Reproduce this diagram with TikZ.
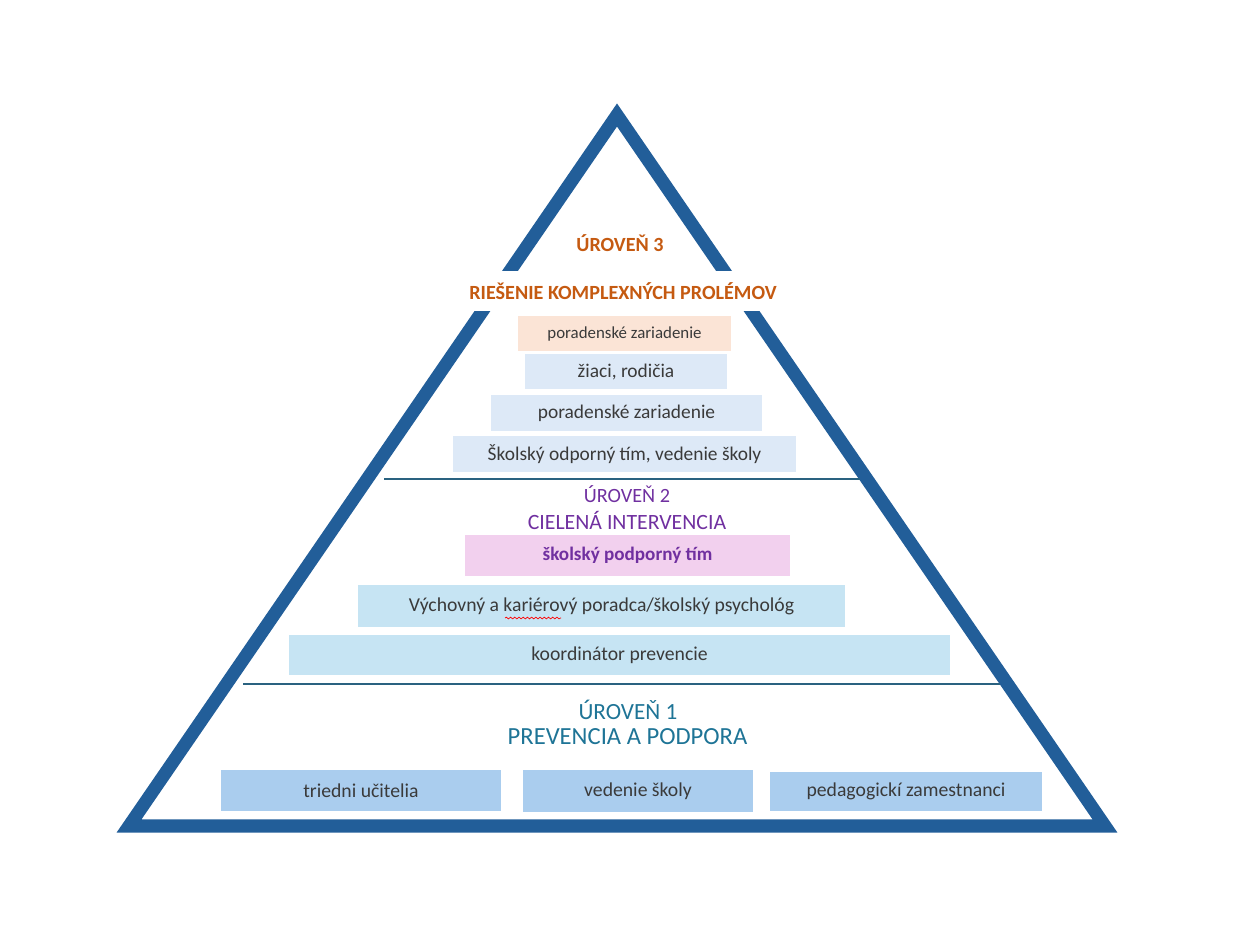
\documentclass[tikz,border=0pt]{standalone}
\usepackage{fontspec}
\setmainfont{Carlito}
\usetikzlibrary{decorations.pathmorphing}
\definecolor{pyrblue}{RGB}{34,94,153}
\definecolor{divline}{RGB}{42,98,128}
\definecolor{lvlorange}{RGB}{197,90,17}
\definecolor{lvlpurple}{RGB}{112,48,160}
\definecolor{lvlteal}{RGB}{30,116,150}
\definecolor{boxtext}{RGB}{58,58,58}
\definecolor{peachfill}{RGB}{251,228,214}
\definecolor{paleblue}{RGB}{221,233,247}
\definecolor{pinkfill}{RGB}{242,208,238}
\definecolor{cyanfill}{RGB}{198,228,243}
\definecolor{midblue}{RGB}{170,205,238}
\tikzset{
  lvlbox/.style={fill=#1, inner sep=0pt, text=boxtext, font=\fontsize{13.8}{16}\selectfont},
  lvltitle/.style={text=#1, inner sep=0pt, font=\fontsize{14.3}{17}\selectfont\bfseries},
  divider/.style={divline, line width=1.8pt}
}
\begin{document}
\begin{tikzpicture}[x=0.025cm, y=-0.025cm]
  \useasboundingbox (0,0) rectangle (1240,930);
  \coordinate (apex) at (617,115);
  \coordinate (lc) at (129,826);
  \coordinate (rc) at (1105,826);
  %
  \draw[pyrblue, line width=9.3pt, line join=miter] (apex) -- (lc) -- (rc) -- cycle;
  %
  % level 3
  \node[lvltitle=lvlorange] (t3) at (620,243) {ÚROVEŇ 3};
  \node[lvltitle=lvlorange, fill=white, minimum height=1cm, inner xsep=4pt] (n3) at (623,291) {RIEŠENIE KOMPLEXNÝCH PROLÉMOV};
  \node[lvlbox=peachfill, font=\fontsize{12}{14}\selectfont, minimum width=5.33cm, minimum height=0.88cm] (b31) at (624.5,333.5) {poradenské zariadenie};
  \node[lvlbox=paleblue, minimum width=5.05cm, minimum height=0.88cm] (b32) at (626,371.5) {žiaci, rodičia};
  \node[lvlbox=paleblue, minimum width=6.78cm, minimum height=0.9cm] (b33) at (626.5,413) {poradenské zariadenie};
  \node[lvlbox=paleblue, minimum width=8.58cm, minimum height=0.9cm] (b34) at (624.5,454) {Školský odporný tím, vedenie školy};
  %
  \coordinate (d2l) at (384,479);
  \coordinate (d2r) at (860,479);
  \draw[divider] (d2l) -- (d2r);
  %
  % level 2
  \node[lvltitle=lvlpurple, font=\fontsize{14.4}{17}\selectfont] (t2) at (627,494) {ÚROVEŇ 2};
  \node[lvltitle=lvlpurple, font=\fontsize{15.5}{18}\selectfont] (n2) at (627,520) {CIELENÁ INTERVENCIA};
  \node[lvlbox=pinkfill, text=lvlpurple, font=\fontsize{13.6}{16}\selectfont\bfseries, minimum width=8.13cm, minimum height=1.03cm] (b21) at (627.5,555.5) {školský podporný tím};
  \node[lvlbox=cyanfill, font=\fontsize{14}{16}\selectfont, minimum width=12.18cm, minimum height=1.05cm] (b22) at (601.5,606) {Výchovný a kariérový poradca/školský psychológ};
  \node[lvlbox=cyanfill, font=\fontsize{14}{16}\selectfont, minimum width=16.53cm, minimum height=1cm] (b23) at (619.5,655) {koordinátor prevencie};
  \draw[red, line width=0.5pt, decorate, decoration={snake, amplitude=0.6pt, segment length=3pt}] (505,618) -- (561,618);
  %
  \coordinate (d1l) at (243,684);
  \coordinate (d1r) at (1000,684);
  \draw[divider] (d1l) -- (d1r);
  %
  % level 1
  \node[lvltitle=lvlteal, font=\fontsize{16.5}{19}\selectfont] (t1) at (628,710) {ÚROVEŇ 1};
  \node[lvltitle=lvlteal, font=\fontsize{17.5}{20}\selectfont] (n1) at (627.5,737) {PREVENCIA A PODPORA};
  \node[lvlbox=midblue, font=\fontsize{14}{16}\selectfont, minimum width=7cm, minimum height=1.03cm] (b11) at (361,790.5) {triedni učitelia};
  \node[lvlbox=midblue, font=\fontsize{14}{16}\selectfont, minimum width=5.75cm, minimum height=1.05cm] (b12) at (638,791) {vedenie školy};
  \node[lvlbox=midblue, font=\fontsize{14}{16}\selectfont, minimum width=6.8cm, minimum height=0.98cm] (b13) at (906,791.5) {pedagogickí zamestnanci};
  %
\end{tikzpicture}
\end{document}
